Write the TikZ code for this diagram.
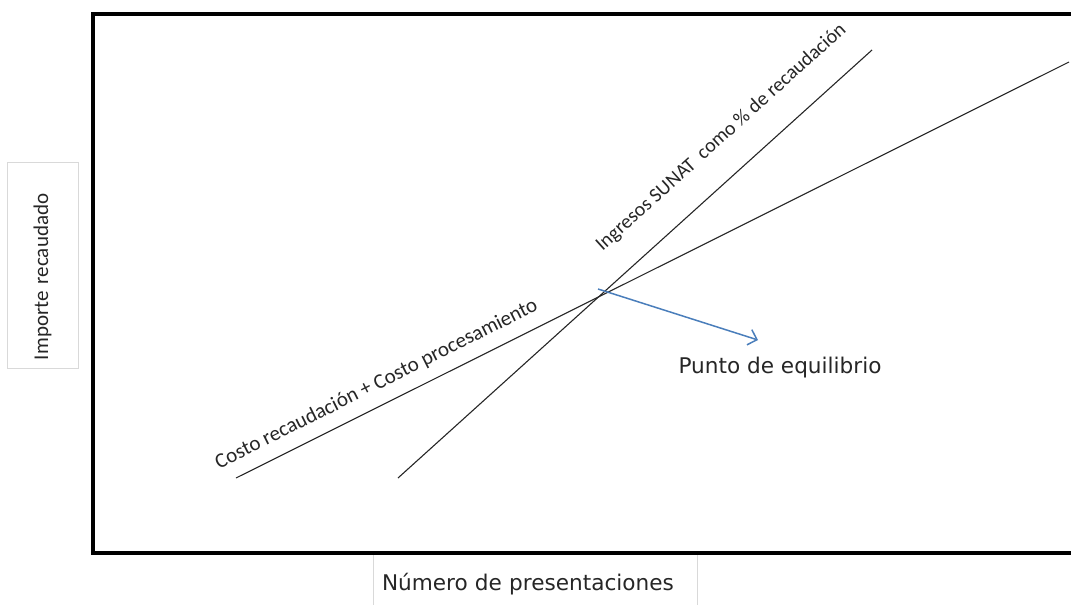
\documentclass[tikz,border=0pt]{standalone}
\usepackage{fontspec}
\setmainfont{Carlito}
\newfontfamily\widesans{DejaVu Sans}
\usetikzlibrary{arrows.meta}
\definecolor{arrowblue}{HTML}{4A7EBB}
\definecolor{boxgray}{HTML}{D9D9D9}

\begin{document}
\begin{tikzpicture}[
  x=1pt, y=-1pt,
  frame/.style={line width=3.5pt, line join=miter},
  curve/.style={line width=1.1pt, black!85},
  pointer/.style={-{Straight Barb[length=8pt, width=16pt]}, line width=1.5pt, arrowblue},
  axisbox/.style={draw=boxgray, line width=0.8pt},
  lbl/.style={font=\fontsize{21}{25}\selectfont, inner sep=0pt, text=black!85},
  wlbl/.style={font=\widesans\fontsize{21.6}{25}\selectfont, inner sep=0pt, text=black!85}
]
\useasboundingbox (0,0) rectangle (1071,605);
\clip (0,0) rectangle (1071,605);

% --- axis label boxes ---
\node[axisbox, lbl, rotate=90, minimum height=71pt, text width=190pt,
      inner xsep=8pt, align=left] (ylab) at (42.5,265) {Importe recaudado};
\node[axisbox, wlbl, minimum width=324pt, minimum height=62pt, text width=306pt,
      inner xsep=9pt, align=left] (xlab) at (535,584) {Número de presentaciones};

% --- frame (open on the right) ---
\coordinate (tr) at (1080,14);
\coordinate (tl) at (93,14);
\coordinate (bl) at (93,553);
\coordinate (br) at (1080,553);
\draw[frame] (tr) -- (tl) -- (bl) -- (br);

% --- cost and revenue lines ---
\coordinate (cost0) at (236,478);
\coordinate (cost1) at (1069,62);
\coordinate (rev0) at (398,478);
\coordinate (rev1) at (872,50);
\draw[curve] (cost0) -- (cost1)
  node[lbl, pos=0.18, sloped, yshift=21pt] (costlab) {Costo recaudación + Costo procesamiento};
\draw[curve] (rev0) -- (rev1)
  node[lbl, font=\fontsize{20}{24}\selectfont, pos=0.733, sloped, yshift=36pt] (revlab)
  {Ingresos SUNAT\ \ como \% de recaudación};

% --- break-even point ---
\coordinate (eq) at (598,289);
\coordinate (eqtip) at (758,340);
\draw[pointer] (eq) -- (eqtip);
\node[wlbl] (eqlab) at (780,368) {Punto de equilibrio};

\end{tikzpicture}
\end{document}
